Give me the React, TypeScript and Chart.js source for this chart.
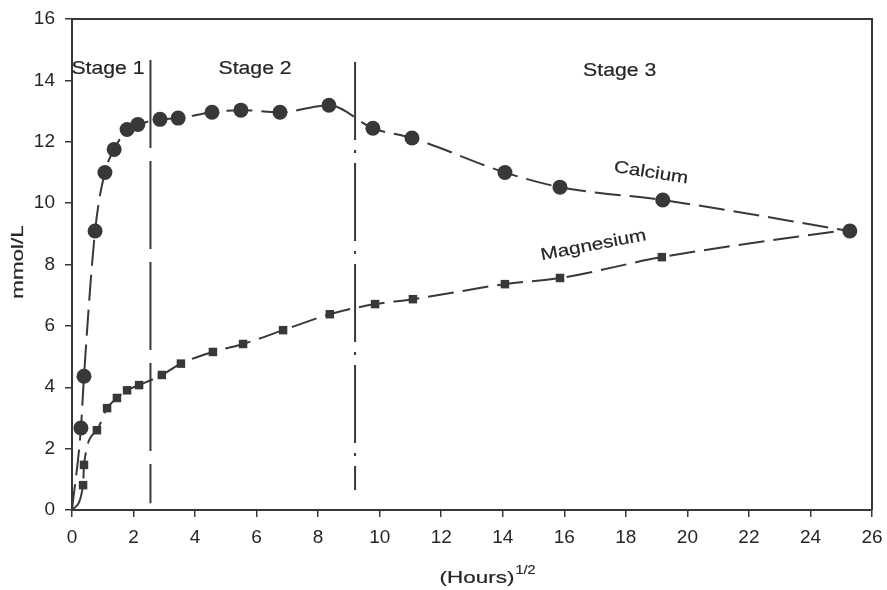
import React, { useEffect, useRef } from "react";
import { Chart, registerables } from "chart.js";

Chart.register(...registerables);

const calciumX = [0, 0.29, 0.39, 0.75, 1.07, 1.37, 1.79, 2.14, 2.86, 3.45, 4.55, 5.49, 6.76, 8.35, 9.78, 11.05, 14.07, 15.86, 19.2, 25.28];
const calciumY = [0, 2.67, 4.36, 9.09, 11.0, 11.75, 12.4, 12.56, 12.73, 12.77, 12.96, 13.03, 12.96, 13.19, 12.44, 12.12, 11.0, 10.52, 10.1, 9.09];
const magnesiumX = [0, 0.36, 0.39, 0.81, 1.14, 1.46, 1.79, 2.18, 2.92, 3.54, 4.58, 5.56, 6.86, 8.38, 9.85, 11.08, 14.07, 15.86, 19.17, 25.3];
const magnesiumY = [0, 0.81, 1.47, 2.6, 3.32, 3.65, 3.9, 4.07, 4.4, 4.77, 5.15, 5.41, 5.86, 6.38, 6.71, 6.87, 7.36, 7.56, 8.24, 9.15];

const stageLineX = [2.55, 9.2];
const stageLineTop = [14.66, 14.6];
const stageLineBottom = [0.22, 0.65];
const stageLabels = ["Stage 1", "Stage 2", "Stage 3"];
const stageLabelX = [1.17, 5.95, 17.8];
const stageLabelY = [14.38, 14.38, 14.3];

const seriesLabels = ["Calcium", "Magnesium"];
const seriesLabelX = [18.82, 16.95];
const seriesLabelY = [10.98, 8.62];
const seriesLabelAngle = [9, -11];

const xTicks = [0, 2, 4, 6, 8, 10, 12, 14, 16, 18, 20, 22, 24, 26];
const yTicks = [0, 2, 4, 6, 8, 10, 12, 14, 16];

const INK = "#383838";
const TEXT = "#262626";
const FONT = "'Liberation Sans', Arial, sans-serif";

const toPoints = (xs: number[], ys: number[]) => xs.map((x, i) => ({ x, y: ys[i] }));

function wideText(ctx: any, text: string, x: number, y: number, size: number, stretch: number, angle = 0, align = "center") {
  ctx.save();
  ctx.translate(x, y);
  ctx.rotate((angle * Math.PI) / 180);
  ctx.scale(stretch, 1);
  ctx.font = `${size}px ${FONT}`;
  ctx.textAlign = align;
  ctx.textBaseline = "middle";
  ctx.fillText(text, 0, 0);
  ctx.lineWidth = 0.2;
  ctx.strokeStyle = TEXT;
  ctx.strokeText(text, 0, 0);
  ctx.restore();
}

const annotations = {
  id: "annotations",
  afterDraw(chart: any) {
    const { ctx, chartArea, scales } = chart;
    const xs = scales.x;
    const ys = scales.y;
    ctx.save();
    ctx.strokeStyle = INK;
    ctx.lineWidth = 2;
    ctx.beginPath();
    ctx.moveTo(chartArea.left, chartArea.top);
    ctx.lineTo(chartArea.right, chartArea.top);
    ctx.lineTo(chartArea.right, chartArea.bottom);
    ctx.stroke();

    const dashes = [[88, 13], [78, 10, 3, 10]];
    stageLineX.forEach((sx, i) => {
      const px = xs.getPixelForValue(sx);
      ctx.setLineDash(dashes[i]);
      ctx.lineWidth = 2;
      ctx.beginPath();
      ctx.moveTo(px, ys.getPixelForValue(stageLineTop[i]));
      ctx.lineTo(px, ys.getPixelForValue(stageLineBottom[i]));
      ctx.stroke();
    });
    ctx.setLineDash([]);

    ctx.fillStyle = TEXT;
    stageLabels.forEach((t, i) => {
      wideText(ctx, t, xs.getPixelForValue(stageLabelX[i]), ys.getPixelForValue(stageLabelY[i]), 18, 1.18);
    });

    seriesLabels.forEach((t, i) => {
      wideText(ctx, t, xs.getPixelForValue(seriesLabelX[i]), ys.getPixelForValue(seriesLabelY[i]), 17, 1.22, seriesLabelAngle[i]);
    });

    wideText(ctx, "mmol/L", 19, 262, 16, 1.4, -90);

    ctx.font = `17px ${FONT}`;
    const w1 = ctx.measureText("(Hours)").width * 1.32;
    ctx.font = `12px ${FONT}`;
    const w2 = ctx.measureText("1/2").width * 1.2;
    const start = 487 - (w1 + w2) / 2;
    wideText(ctx, "(Hours)", start, 578, 17, 1.32, 0, "left");
    wideText(ctx, "1/2", start + w1 + 1, 571, 12, 1.2, 0, "left");
    ctx.restore();
  },
};

export default function App() {
  const ref = useRef<HTMLCanvasElement>(null);
  useEffect(() => {
    if (!ref.current) return;
    const radiiCa = calciumX.map((_, i) => (i === 0 ? 0 : 7.5));
    const radiiMg = magnesiumX.map((_, i) => (i === 0 ? 0 : 6));
    const chart = new Chart(ref.current, {
      type: "line",
      data: {
        datasets: [
          {
            label: "Calcium",
            data: toPoints(calciumX, calciumY),
            borderColor: INK,
            backgroundColor: INK,
            borderWidth: 2,
            borderDash: [26, 9],
            pointStyle: "circle",
            pointRadius: radiiCa,
            pointBorderWidth: 0,
            cubicInterpolationMode: "monotone",
            tension: 0.4,
          },
          {
            label: "Magnesium",
            data: toPoints(magnesiumX, magnesiumY),
            borderColor: INK,
            backgroundColor: INK,
            borderWidth: 2,
            borderDash: [26, 9],
            pointStyle: "rect",
            pointRadius: radiiMg,
            pointBorderWidth: 0,
            cubicInterpolationMode: "monotone",
            tension: 0.4,
          },
        ],
      },
      options: {
        animation: false,
        responsive: false,
        maintainAspectRatio: false,
        layout: { padding: { left: 0, top: 19, right: 15, bottom: 0 } },
        plugins: { legend: { display: false }, tooltip: { enabled: false } },
        scales: {
          x: {
            type: "linear",
            min: 0,
            max: 26,
            afterBuildTicks: (s: any) => {
              s.ticks = xTicks.map((v) => ({ value: v }));
            },
            afterFit: (s: any) => {
              s.height = 80;
              s.paddingLeft = 0;
              s.paddingRight = 0;
            },
            grid: { display: true, drawOnChartArea: false, drawTicks: true, tickLength: 7, color: INK, lineWidth: 1.5 },
            border: { display: true, color: INK, width: 2 },
            ticks: { color: TEXT, font: { family: FONT, size: 19 }, padding: 9 },
          },
          y: {
            type: "linear",
            min: 0,
            max: 16,
            afterBuildTicks: (s: any) => {
              s.ticks = yTicks.map((v) => ({ value: v }));
            },
            afterFit: (s: any) => {
              s.width = 72;
              s.paddingTop = 0;
              s.paddingBottom = 0;
            },
            grid: { display: true, drawOnChartArea: false, drawTicks: true, tickLength: 7, color: INK, lineWidth: 1.5 },
            border: { display: true, color: INK, width: 2 },
            ticks: { color: TEXT, font: { family: FONT, size: 19 }, padding: 10 },
          },
        },
      },
      plugins: [annotations],
    });
    return () => chart.destroy();
  }, []);
  return (
    <div style={{ position: "absolute", left: 0, top: 0, width: 887, height: 590, background: "#fff" }}>
      <canvas ref={ref} width={887} height={590} style={{ width: 887, height: 590 }} />
    </div>
  );
}
